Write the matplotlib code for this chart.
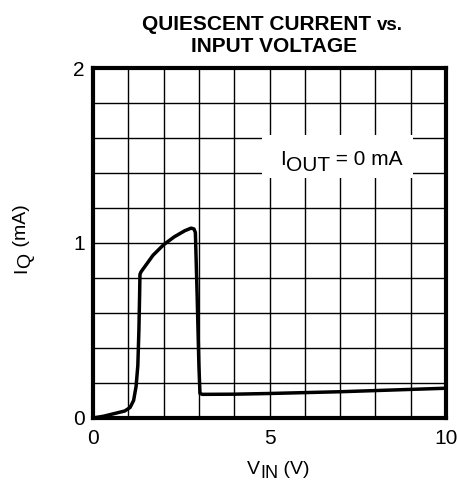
import matplotlib
matplotlib.use('Agg')
import matplotlib.pyplot as plt
from matplotlib.patches import Rectangle

plt.rcParams['font.family'] = ['Liberation Sans', 'DejaVu Sans']

# curve
vin = [0.0, 0.3, 0.6, 0.9, 1.05, 1.15, 1.22, 1.27, 1.30, 1.32, 1.33, 1.36, 1.45,
       1.7, 2.0, 2.3, 2.6, 2.78, 2.86, 2.9, 2.95, 3.0, 3.03, 3.1, 4.0, 5.0, 7.0, 10.0]
iq = [0.0, 0.01, 0.025, 0.04, 0.06, 0.10, 0.18, 0.30, 0.50, 0.70, 0.82, 0.835, 0.86,
      0.93, 0.99, 1.035, 1.07, 1.085, 1.08, 1.06, 0.70, 0.30, 0.14, 0.135, 0.136, 0.14, 0.15, 0.17]

x_labels = ['0', '', '', '', '', '5', '', '', '', '', '10']
y_labels = ['0', '', '', '', '', '1', '', '', '', '', '2']

fig = plt.figure(figsize=(4.57, 4.84), dpi=100)
ax = fig.add_axes([0.2035, 0.1364, 0.7725, 0.7231])

ax.plot(vin, iq, color='black', lw=2.5, solid_joinstyle='round', zorder=3)

ax.set_xlim(0, 10)
ax.set_ylim(0, 2)
ax.set_xticks([i for i in range(11)])
ax.set_yticks([i * 0.2 for i in range(11)])
ax.set_xticklabels(x_labels, fontsize=15)
ax.set_yticklabels(y_labels, fontsize=15)
ax.tick_params(axis='x', length=0, pad=8)
ax.tick_params(axis='y', length=0, pad=6)
ax.grid(True, color='black', lw=1.0)
for s in ax.spines.values():
    s.set_linewidth(3)

# white box behind the note
ax.add_patch(Rectangle((4.8, 1.37), 4.27, 0.245, facecolor='white', edgecolor='none', zorder=2))


def sub_label(x, y, parts, coords):
    # parts: list of (text, drop in points, fontsize)
    prev = None
    last_drop = 0
    for txt, drop, fs in parts:
        if prev is None:
            prev = ax.annotate(txt, xy=(x, y), xycoords=coords, fontsize=fs,
                               ha='left', va='bottom', xytext=(0, -drop),
                               textcoords='offset points', zorder=4)
        else:
            prev = ax.annotate(txt, xy=(1, 0), xycoords=prev, fontsize=fs,
                               ha='left', va='bottom', xytext=(0, -drop + last_drop),
                               textcoords='offset points', zorder=4)
        last_drop = drop
    return prev


sub_label(5.3, 1.42, [('I', 0, 15), ('OUT', 4, 15), (' = 0 mA', 0, 15)], 'data')
sub_label(247 / 457, 0.013, [('V', 0, 14), ('IN', 3, 13), (' (V)', 0, 14)], 'figure fraction')

# rotated y label, built from pieces
t = fig.text(0.048, 0.436, 'I', fontsize=14, rotation=90, ha='center', va='bottom')
t = ax.annotate('Q', xy=(0.5, 1), xycoords=t, xytext=(3, 0), textcoords='offset points',
                fontsize=14, rotation=90, ha='center', va='bottom')
ax.annotate(' (mA)', xy=(0.5, 1), xycoords=t, xytext=(-3, 0), textcoords='offset points',
            fontsize=14, rotation=90, ha='center', va='bottom')

fig.text(142 / 457, 0.938, 'QUIESCENT CURRENT', fontsize=15, fontweight='bold',
         ha='left', va='baseline')
fig.text(377 / 457, 0.938, 'vs.', fontsize=13.5, fontweight='bold', ha='left', va='baseline')
fig.text(0.6, 0.8926, 'INPUT VOLTAGE', fontsize=15, fontweight='bold',
         ha='center', va='baseline')

fig.savefig('out.png', dpi=100)
